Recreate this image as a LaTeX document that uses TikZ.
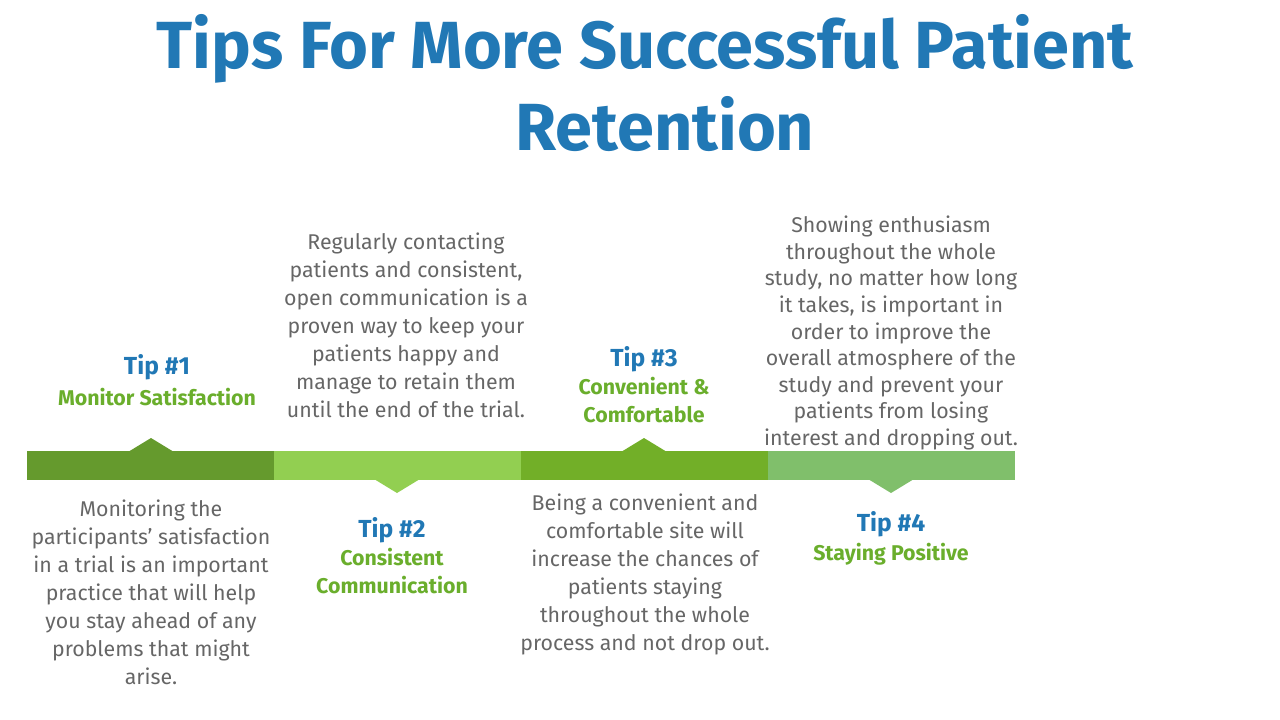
\documentclass[tikz,border=0pt]{standalone}
\usepackage{fontspec}
\setmainfont{Fira Sans}
\begin{document}
\begin{tikzpicture}[x=0.75pt,y=-0.75pt,
  body/.style={align=center,text=black!60,font=\fontsize{16}{21}\selectfont,inner sep=0pt},
  tipn/.style={text={rgb,255:red,33;green,120;blue,181},font=\bfseries\fontsize{18.5}{21}\selectfont,inner sep=0pt},
  tips/.style={align=center,text={rgb,255:red,106;green,174;blue,44},font=\bfseries\fontsize{16}{21}\selectfont,inner sep=0pt}]
\useasboundingbox (0,0) rectangle (1280,720);
\definecolor{gA}{RGB}{101,154,45}
\definecolor{gB}{RGB}{146,207,81}
\definecolor{gC}{RGB}{114,175,40}
\definecolor{gD}{RGB}{128,191,107}
\node[text={rgb,255:red,33;green,120;blue,181},font=\bfseries\fontsize{50}{62}\selectfont,align=center] (title) at (645,83) {Tips For More Successful Patient\\\hspace*{30pt}Retention};
% bar
\fill[gA] (27,451) rectangle (274,480);
\fill[gB] (274,451) rectangle (521,480);
\fill[gC] (521,451) rectangle (768,480);
\fill[gD] (768,451) rectangle (1015,480);
\fill[gA] (128,452) -- (151,438) -- (174,452) -- cycle;
\fill[gB] (374,479) -- (397,493) -- (420,479) -- cycle;
\fill[gC] (621,452) -- (644,438) -- (667,452) -- cycle;
\fill[gD] (868,479) -- (891,493) -- (914,479) -- cycle;
% tip 1
\node[tipn] (t1) at (157,367) {Tip \#1};
\node[tips] (s1) at (157,397) {Monitor Satisfaction};
\node[body,anchor=north] (d1) at (151,500) {Monitoring the\\participants' satisfaction\\in a trial is an important\\practice that will help\\you stay ahead of any\\problems that might\\arise.};
% tip 2
\node[tipn] (t2) at (392,530) {Tip \#2};
\node[tips,anchor=north] (s2) at (392,548) {Consistent\\Communication};
\node[body,anchor=north] (d2) at (406,233) {Regularly contacting\\patients and consistent,\\open communication is a\\proven way to keep your\\patients happy and\\manage to retain them\\until the end of the trial.};
% tip 3
\node[tipn] (t3) at (644,359) {Tip \#3};
\node[tips,anchor=north] (s3) at (644,377) {Convenient \&\\Comfortable};
\node[body,anchor=north] (d3) at (645,494) {Being a convenient and\\comfortable site will\\increase the chances of\\patients staying\\throughout the whole\\process and not drop out.};
% tip 4
\node[tipn] (t4) at (891,524) {Tip \#4};
\node[tips] (s4) at (891,554) {Staying Positive};
\node[body,anchor=north,font=\fontsize{16}{19.9}\selectfont] (d4) at (891,216) {Showing enthusiasm\\throughout the whole\\study, no matter how long\\it takes, is important in\\order to improve the\\overall atmosphere of the\\study and prevent your\\patients from losing\\interest and dropping out.};
\end{tikzpicture}
\end{document}
